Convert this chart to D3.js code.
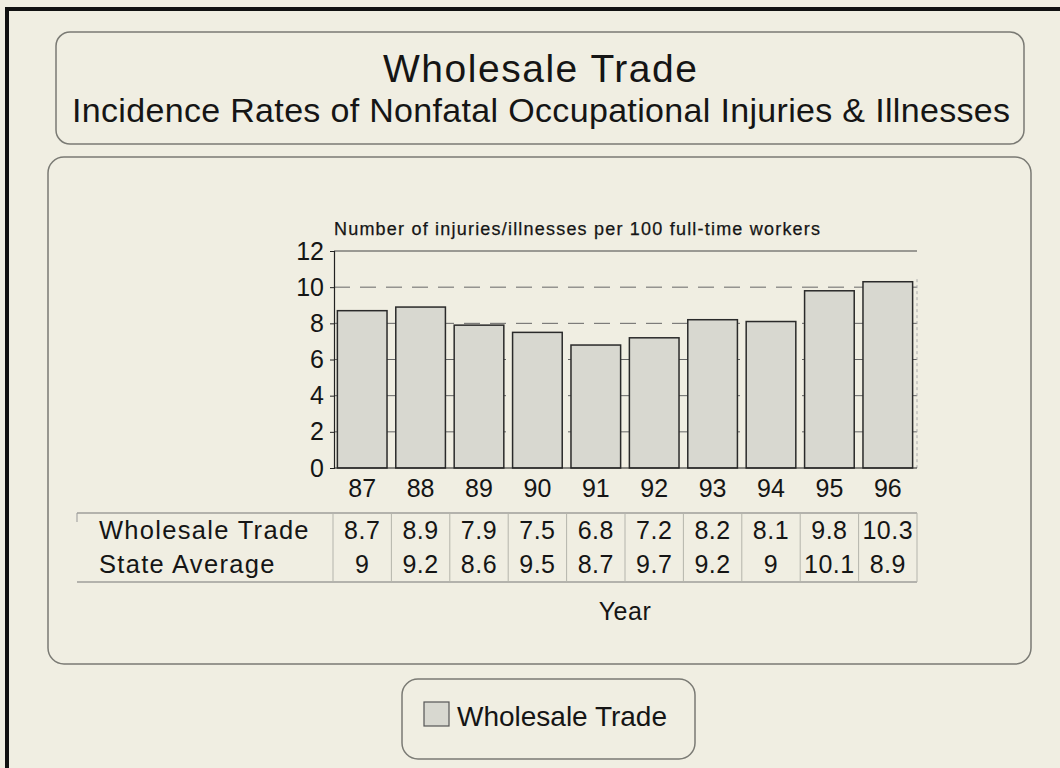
<!DOCTYPE html>
<html>
<head>
<meta charset="utf-8">
<script src="https://cdn.jsdelivr.net/npm/d3@7"></script>
<style>
  html, body { margin: 0; padding: 0; background: #f0eee2; }
  svg { display: block; }
  text { font-family: "Liberation Sans", Arial, Helvetica, sans-serif; fill: #151515; }
</style>
</head>
<body>
<svg id="chart" width="1060" height="768"></svg>
<script>
// ---- Data ----
const years = ["87", "88", "89", "90", "91", "92", "93", "94", "95", "96"];
const wholesaleTrade = [8.7, 8.9, 7.9, 7.5, 6.8, 7.2, 8.2, 8.1, 9.8, 10.3];
const stateAverage = [9, 9.2, 8.6, 9.5, 8.7, 9.7, 9.2, 9, 10.1, 8.9];
const yTicks = [0, 2, 4, 6, 8, 10, 12];
const rowLabels = ["Wholesale Trade", "State Average"];
const titleText = "Wholesale Trade";
const subtitleText = "Incidence Rates of Nonfatal Occupational Injuries & Illnesses";
const yAxisLabel = "Number of injuries/illnesses per 100 full-time workers";
const xAxisLabel = "Year";
const legendLabel = "Wholesale Trade";

const svg = d3.select("#chart");
const barFill = "#d8d8d0";
const frameStroke = "#7a7a74";
const FONT = "'Liberation Sans', Arial, Helvetica, sans-serif";

// background
svg.append("rect").attr("x", 0).attr("y", 0).attr("width", 1060).attr("height", 768).attr("fill", "#f0eee2");

// outer black frame (top and left edges visible)
svg.append("line").attr("x1", 5).attr("x2", 1060).attr("y1", 9).attr("y2", 9).attr("stroke", "#111").attr("stroke-width", 4);
svg.append("line").attr("x1", 7).attr("x2", 7).attr("y1", 7).attr("y2", 768).attr("stroke", "#111").attr("stroke-width", 4);

// title box
svg.append("rect").attr("x", 56).attr("y", 32).attr("width", 968).attr("height", 112)
  .attr("rx", 14).attr("fill", "none").attr("stroke", frameStroke).attr("stroke-width", 1.5);
svg.append("text").attr("x", 540).attr("y", 82).attr("text-anchor", "middle")
  .attr("font-size", 39).attr("textLength", 314).attr("lengthAdjust", "spacing").text(titleText);
svg.append("text").attr("x", 541).attr("y", 122).attr("text-anchor", "middle")
  .attr("font-size", 34).attr("textLength", 938).attr("lengthAdjust", "spacing").text(subtitleText);

// main panel
svg.append("rect").attr("x", 48).attr("y", 157).attr("width", 983).attr("height", 507)
  .attr("rx", 16).attr("fill", "none").attr("stroke", frameStroke).attr("stroke-width", 1.5);

// scales
const colX = d3.scaleBand().domain(years).range([333, 917]).padding(0);
const x = d3.scaleBand().domain(years).range([333, 917]).paddingInner(0.15).paddingOuter(0.075);
const y = d3.scaleLinear().domain([0, 12]).range([468, 251]);

// gridlines
const grid = svg.append("g");
grid.selectAll("line").data(yTicks.filter(d => d > 0)).join("line")
  .attr("x1", 334).attr("x2", 917)
  .attr("y1", d => y(d)).attr("y2", d => y(d))
  .attr("stroke", d => d === 12 ? "#444" : "#666")
  .attr("stroke-width", 1)
  .attr("stroke-dasharray", d => d === 12 ? null : "16,10");

// right frame line of plot (faint)
svg.append("line").attr("x1", 917).attr("x2", 917).attr("y1", y(10) - 8).attr("y2", y(0))
  .attr("stroke", "#aaa").attr("stroke-width", 1).attr("stroke-dasharray", "3,3");

// bars
svg.append("g").selectAll("rect").data(years).join("rect")
  .attr("x", d => x(d))
  .attr("width", x.bandwidth())
  .attr("y", (d, i) => y(wholesaleTrade[i]))
  .attr("height", (d, i) => y(0) - y(wholesaleTrade[i]))
  .attr("fill", barFill).attr("stroke", "#2a2a2a").attr("stroke-width", 1.5);

// y axis
const yAxis = d3.axisLeft(y).tickValues(yTicks).tickSize(4).tickPadding(6).tickFormat(d3.format("d"));
const yg = svg.append("g").attr("transform", "translate(334,0)").call(yAxis);
yg.select(".domain").attr("stroke", "#222").attr("stroke-width", 1.2);
yg.selectAll(".tick line").attr("stroke", "#222");
yg.selectAll(".tick text").attr("font-size", 25).attr("fill", "#151515").attr("font-family", FONT);

// baseline
svg.append("line").attr("x1", 334).attr("x2", 917).attr("y1", y(0)).attr("y2", y(0))
  .attr("stroke", "#222").attr("stroke-width", 1.2);

// y axis label
svg.append("text").attr("x", 334).attr("y", 235).attr("font-size", 18)
  .attr("stroke", "#151515").attr("stroke-width", 0.25)
  .attr("textLength", 486).attr("lengthAdjust", "spacing").text(yAxisLabel);

// x labels (years)
const xAxis = d3.axisBottom(colX).tickSize(0).tickPadding(0);
const xg = svg.append("g").attr("transform", "translate(0,479)").call(xAxis);
xg.select(".domain").remove();
xg.selectAll(".tick text").attr("font-size", 25).attr("fill", "#151515").attr("dy", "0.72em")
  .attr("font-family", FONT);

// data table
const tableTop = 513, tableBottom = 582;
const table = svg.append("g");
table.append("line").attr("x1", 77).attr("x2", 917).attr("y1", tableTop).attr("y2", tableTop)
  .attr("stroke", "#777").attr("stroke-width", 1.2);
table.append("line").attr("x1", 77).attr("x2", 917).attr("y1", tableBottom).attr("y2", tableBottom)
  .attr("stroke", "#777").attr("stroke-width", 1.2);
table.append("line").attr("x1", 77).attr("x2", 77).attr("y1", tableTop).attr("y2", tableTop + 9)
  .attr("stroke", "#999").attr("stroke-width", 1);
const seps = years.map(d => colX(d)).concat([colX.range()[1]]);
table.selectAll("line.sep").data(seps).join("line").attr("class", "sep")
  .attr("x1", d => d).attr("x2", d => d)
  .attr("y1", tableTop).attr("y2", tableBottom)
  .attr("stroke", "#b4b4ac").attr("stroke-width", 1);

const rowsData = [wholesaleTrade, stateAverage];
const rowBaselines = [539, 573];
rowLabels.forEach((lab, r) => {
  table.append("text").attr("x", 99).attr("y", rowBaselines[r]).attr("font-size", 25.5)
    .attr("letter-spacing", 1.3).text(lab);
  table.selectAll("text.v" + r).data(years).join("text").attr("class", "v" + r)
    .attr("x", d => colX(d) + colX.bandwidth() / 2)
    .attr("y", rowBaselines[r])
    .attr("text-anchor", "middle").attr("font-size", 25).attr("letter-spacing", 0.5)
    .text((d, i) => rowsData[r][i]);
});

// x axis title
svg.append("text").attr("x", 625).attr("y", 620).attr("text-anchor", "middle")
  .attr("font-size", 25).attr("letter-spacing", 0.5).text(xAxisLabel);

// legend
svg.append("rect").attr("x", 402).attr("y", 679).attr("width", 293).attr("height", 80)
  .attr("rx", 16).attr("fill", "none").attr("stroke", frameStroke).attr("stroke-width", 1.5);
svg.append("rect").attr("x", 424).attr("y", 702).attr("width", 25).attr("height", 24)
  .attr("fill", barFill).attr("stroke", "#555").attr("stroke-width", 1.2);
svg.append("text").attr("x", 457).attr("y", 726).attr("font-size", 28)
  .attr("textLength", 210).attr("lengthAdjust", "spacing").text(legendLabel);
</script>
</body>
</html>
